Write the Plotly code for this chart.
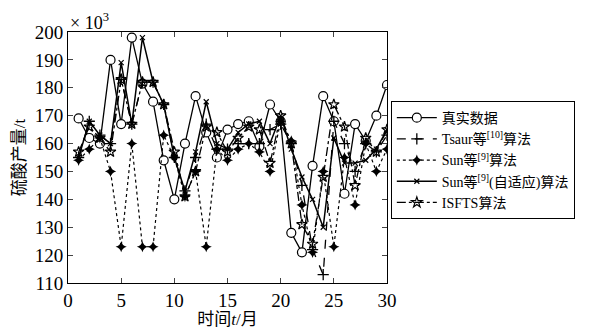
import plotly.graph_objects as go

t = list(range(1, 31))
real = [169, 162, 160, 190, 167, 198, 181.5, 175, 154, 140, 160, 177, 164, 155, 165,
        167, 168, 159, 174, 168, 128, 121, 152, 177, 168, 142, 167, 161, 170, 181]
tsaur = [155, 168, 163, 160, 183, 167, 182, 182, 174, 155, 143, 155, 167, 158, 158,
         160, 160, 160, 165, 167, 160, 145, 122, 113, 168, 160, 150, 160, 157, 163]
sun = [154, 158, 162, 150, 123, 160, 123, 123, 163, 155, 141, 150, 123, 158, 154,
       158, 160, 157, 150, 168, 161, 138, 121, 150, 123, 155, 138, 160, 150, 158]
sun_adapt = [155, 168, 163, 160, 189, 167, 198, 182, 174, 155, 143, 157, 175, 160, 158,
             164, 167, 168, 160, 170, 158, 148, 140, 130, 162, 153, 153, 154, 158, 165]
isfts = [157, 166, 162, 157, 183, 167, 182, 182, 174, 157, 141, 150, 166, 164, 157,
         162, 166, 165, 153, 170, 160, 131, 124, 148, 174, 166, 145, 162, 157, 165]

names = ["真实数据", "Tsaur等<sup>[10]</sup>算法", "Sun等<sup>[9]</sup>算法",
         "Sun等<sup>[9]</sup>(自适应)算法", "ISFTS算法"]
x_ticks = [0, 5, 10, 15, 20, 25, 30]
y_ticks = [110, 120, 130, 140, 150, 160, 170, 180, 190, 200]

serif = "Liberation Serif, Times New Roman, Noto Sans CJK SC, serif"

fig = go.Figure()
fig.add_trace(go.Scatter(x=t, y=real, name=names[0], mode="lines+markers",
                         line=dict(color="black", width=1.3),
                         marker=dict(symbol="circle", size=9, color="white",
                                     line=dict(color="black", width=1.2))))
fig.add_trace(go.Scatter(x=t, y=tsaur, name=names[1], mode="lines+markers",
                         line=dict(color="black", width=1.3, dash="dash"),
                         marker=dict(symbol="cross-thin", size=8,
                                     line=dict(color="black", width=1.3))))
fig.add_trace(go.Scatter(x=t, y=sun, name=names[2], mode="lines+markers",
                         line=dict(color="black", width=1.2, dash="dot"),
                         marker=dict(symbol="star-diamond", size=8, color="black")))
fig.add_trace(go.Scatter(x=t, y=sun_adapt, name=names[3], mode="lines+markers",
                         line=dict(color="black", width=1.5),
                         marker=dict(symbol="x-thin", size=5,
                                     line=dict(color="black", width=1.2))))
fig.add_trace(go.Scatter(x=t, y=isfts, name=names[4], mode="lines+markers",
                         line=dict(color="black", width=1.3, dash="dashdot"),
                         marker=dict(symbol="star-open", size=8,
                                     line=dict(color="black", width=1.2))))

fig.update_layout(
    width=595, height=321,
    margin=dict(l=60, r=216, t=24, b=46, autoexpand=False),
    paper_bgcolor="white", plot_bgcolor="white",
    font=dict(family=serif, color="black", size=17),
    showlegend=True,
    legend=dict(x=1.012, xanchor="left", y=0.725, yanchor="top",
                bordercolor="black", borderwidth=1, bgcolor="white",
                font=dict(family=serif, size=14, color="black"),
                itemwidth=40, tracegroupgap=0),
    xaxis=dict(range=[0, 30], tickvals=x_ticks, ticks="inside", ticklen=5,
               showline=True, linecolor="black", linewidth=1, mirror="ticks",
               showgrid=False, zeroline=False, automargin=False,
               tickfont=dict(family=serif, size=19),
               title=dict(text="时间<i>t</i>/月", standoff=2,
                          font=dict(family=serif, size=17))),
    yaxis=dict(range=[110, 200], tickvals=y_ticks, ticks="inside", ticklen=5,
               showline=True, linecolor="black", linewidth=1, mirror="ticks",
               showgrid=False, zeroline=False, automargin=False,
               tickfont=dict(family=serif, size=19),
               title=dict(text="硫酸产量/t", standoff=4,
                          font=dict(family=serif, size=17))),
    annotations=[dict(text="× 10<sup>3</sup>", xref="paper", yref="paper",
                      x=0.0, y=1.0, xanchor="left", yanchor="bottom", yshift=-3,
                      showarrow=False, font=dict(family=serif, size=18))],
)

fig.write_html("out.html")
